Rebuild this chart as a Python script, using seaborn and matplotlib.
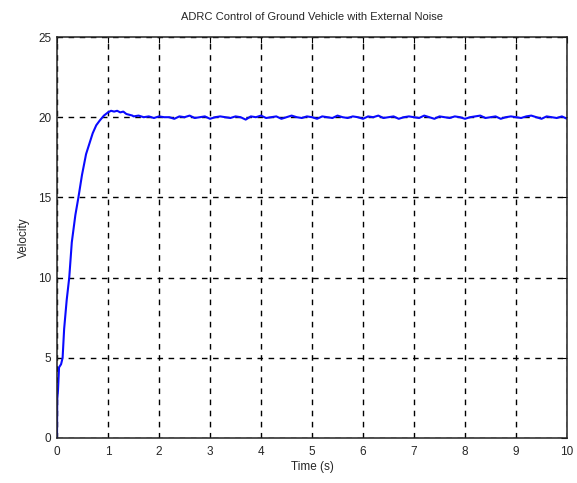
import matplotlib
matplotlib.use("Agg")
import matplotlib.pyplot as plt
import seaborn as sns
import pandas as pd
import numpy as np

# ---- data ----
t_rise = [0.0, 0.005, 0.02, 0.04, 0.06, 0.08, 0.11, 0.14, 0.19, 0.24, 0.29, 0.36,
          0.42, 0.49, 0.57, 0.64, 0.70, 0.77, 0.84, 0.92, 1.00, 1.06, 1.12, 1.18,
          1.24, 1.30, 1.36, 1.42, 1.48]
v_rise = [0.0, 2.4, 3.0, 4.4, 4.5, 4.6, 5.0, 6.8, 8.6, 10.0, 12.2, 13.9,
          15.0, 16.4, 17.7, 18.4, 19.0, 19.5, 19.8, 20.1, 20.3, 20.4, 20.35, 20.4,
          20.3, 20.35, 20.2, 20.15, 20.1]

t_steady = [1.5 + 0.1 * i for i in range(86)]
v_steady = [20.05, 20.1, 20.0, 20.05, 19.95, 20.05, 20.0, 20.0, 19.9, 20.05,
            20.0, 20.1, 19.95, 20.0, 20.05, 19.9, 20.0, 20.05, 20.0, 19.95,
            20.05, 20.0, 19.85, 20.05, 20.0, 20.1, 19.95, 20.0, 20.05, 19.9,
            20.0, 20.1, 20.0, 19.95, 20.05, 20.0, 19.9, 20.05, 20.0, 19.95,
            20.1, 20.0, 19.95, 20.05, 20.0, 19.9, 20.05, 20.0, 20.1, 19.95,
            20.0, 20.05, 19.9, 20.0, 20.05, 20.0, 19.95, 20.1, 20.0, 19.9,
            20.05, 20.0, 19.95, 20.05, 20.0, 19.9, 20.0, 20.05, 20.1, 19.95,
            20.0, 20.05, 19.9, 20.0, 20.05, 20.0, 19.95, 20.05, 20.1, 20.0,
            19.9, 20.05, 20.0, 19.95, 20.05, 19.9]

x_ticks = [0, 1, 2, 3, 4, 5, 6, 7, 8, 9, 10]
y_ticks = [0, 5, 10, 15, 20, 25]
title = "ADRC Control of Ground Vehicle with External Noise"
x_label = "Time (s)"
y_label = "Velocity"

df = pd.DataFrame({"t": t_rise + t_steady, "v": v_rise + v_steady})

sns.set_style("white")
plt.rcParams["font.family"] = ["Liberation Sans", "DejaVu Sans"]

fig = plt.figure(figsize=(5.77, 4.83), dpi=100)
ax = fig.add_axes([57 / 577, 1 - 438 / 483, 510 / 577, 401 / 483])

sns.lineplot(data=df, x="t", y="v", ax=ax, color="#0a0aff", lw=1.5, sort=False)

ax.set_xlim(0, 10)
ax.set_ylim(0, 25)
ax.set_xticks(x_ticks)
ax.set_yticks(y_ticks)
ax.set_xticklabels([str(v) for v in x_ticks], fontsize=8.5)
ax.set_yticklabels([str(v) for v in y_ticks], fontsize=8.5)
ax.grid(True, color="black", linestyle=(0, (4, 4)), linewidth=1.0)
ax.set_axisbelow(True)
ax.tick_params(direction="in", length=4, width=0.8, color="black")
ax.tick_params(axis="x", pad=6)
ax.tick_params(axis="y", pad=4)
ax.tick_params(top=True, right=True)
for s in ax.spines.values():
    s.set_color("#222222")
    s.set_linewidth(1.1)
    s.set_zorder(5)

ax.set_title(title, fontsize=8, pad=12)
ax.set_xlabel(x_label, fontsize=8.5, labelpad=2)
ax.set_ylabel(y_label, fontsize=8.5, labelpad=6)

fig.savefig("out.png", dpi=100, facecolor="white")
